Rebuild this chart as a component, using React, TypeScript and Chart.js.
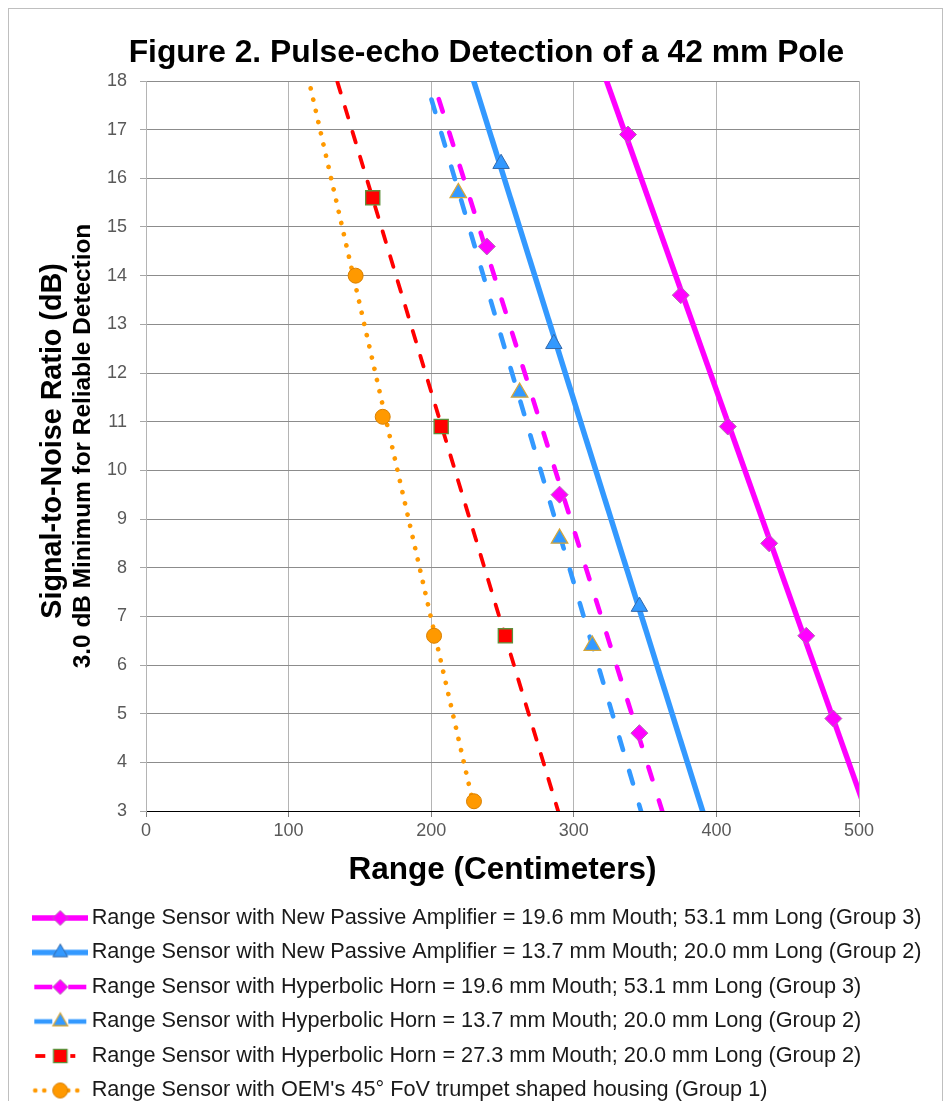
import React, { useEffect, useRef } from 'react';
import { Chart, registerables } from 'chart.js';

Chart.register(...registerables);

const FONT = "'Liberation Sans', Arial, Helvetica, sans-serif";

const TITLE = 'Figure 2. Pulse-echo Detection of a 42 mm Pole';
const X_TITLE = 'Range (Centimeters)';
const Y_TITLE = 'Signal-to-Noise Ratio (dB)';
const Y_SUBTITLE = '3.0 dB Minimum for Reliable Detection';

const X_TICKS = [0, 100, 200, 300, 400, 500];
const Y_TICKS = [3, 4, 5, 6, 7, 8, 9, 10, 11, 12, 13, 14, 15, 16, 17, 18];

const SERIES_LABELS = [
  'Range Sensor with New Passive Amplifier = 19.6 mm Mouth; 53.1 mm Long (Group 3)',
  'Range Sensor with New Passive Amplifier = 13.7 mm Mouth; 20.0 mm Long (Group 2)',
  'Range Sensor with Hyperbolic Horn = 19.6 mm Mouth; 53.1 mm Long (Group 3)',
  'Range Sensor with Hyperbolic Horn = 13.7 mm Mouth; 20.0 mm Long (Group 2)',
  'Range Sensor with Hyperbolic Horn = 27.3 mm Mouth; 20.0 mm Long (Group 2)',
  "Range Sensor with OEM's 45\u00B0 FoV trumpet shaped housing (Group 1)",
];

// Range (cm) and SNR (dB)
const npa196Range = [338, 375, 408, 437, 463, 482];
const npa196Snr = [16.9, 13.6, 10.9, 8.5, 6.6, 4.9];
const npa137Range = [249, 286, 346];
const npa137Snr = [16.3, 12.6, 7.2];
const hh196Range = [239, 290, 346];
const hh196Snr = [14.6, 9.5, 4.6];
const hh137Range = [219, 262, 290, 313];
const hh137Snr = [15.7, 11.6, 8.6, 6.4];
const hh273Range = [159, 207, 252];
const hh273Snr = [15.6, 10.9, 6.6];
const oemRange = [147, 166, 202, 230];
const oemSnr = [14.0, 11.1, 6.6, 3.2];

type Style = {
  range: number[];
  snr: number[];
  color: string;
  width: number;
  dash: number[];
  cap: CanvasLineCap;
  marker: 'rectRot' | 'triangle' | 'rect' | 'circle';
  radius: number;
  fill: string;
  border: string;
  borderWidth: number;
  legendDash: number[];
  legendSegs: number[][];
};

const STYLES: Style[] = [
  { range: npa196Range, snr: npa196Snr, color: '#FF00FF', width: 5.5, dash: [], cap: 'butt', marker: 'rectRot', radius: 8.5, fill: '#FF00FF', border: '#B070B0', borderWidth: 1, legendDash: [], legendSegs: [[0, 56]] },
  { range: npa137Range, snr: npa137Snr, color: '#3399FF', width: 5.5, dash: [], cap: 'butt', marker: 'triangle', radius: 9.5, fill: '#3399FF', border: '#3468A8', borderWidth: 1, legendDash: [], legendSegs: [[0, 56]] },
  { range: hh196Range, snr: hh196Snr, color: '#FF00FF', width: 4.6, dash: [13, 22], cap: 'round', marker: 'rectRot', radius: 8.5, fill: '#FF00FF', border: '#B070B0', borderWidth: 1, legendDash: [], legendSegs: [[2, 20], [36, 54]] },
  { range: hh137Range, snr: hh137Snr, color: '#3399FF', width: 4.6, dash: [13, 22], cap: 'round', marker: 'triangle', radius: 9.5, fill: '#3399FF', border: '#D4A63A', borderWidth: 1.3, legendDash: [], legendSegs: [[2, 20], [36, 54]] },
  { range: hh273Range, snr: hh273Snr, color: '#FF0000', width: 3.8, dash: [11, 15], cap: 'round', marker: 'rect', radius: 10, fill: '#FF0000', border: '#5E8F3A', borderWidth: 1.3, legendDash: [], legendSegs: [[3, 13], [38, 43]] },
  { range: oemRange, snr: oemSnr, color: '#FF9900', width: 4.7, dash: [0.001, 11.5], cap: 'round', marker: 'circle', radius: 7.5, fill: '#FF9900', border: '#D98000', borderWidth: 1, legendDash: [0.001, 9], legendSegs: [[3, 20], [36, 54]] },
];

function trendLine(xs: number[], ys: number[], yLo: number, yHi: number) {
  const n = xs.length;
  const mx = xs.reduce((a, b) => a + b, 0) / n;
  const my = ys.reduce((a, b) => a + b, 0) / n;
  let sxy = 0;
  let sxx = 0;
  for (let i = 0; i < n; i++) {
    sxy += (xs[i] - mx) * (ys[i] - my);
    sxx += (xs[i] - mx) * (xs[i] - mx);
  }
  const b = sxy / sxx;
  const a = my - b * mx;
  return [
    { x: (yHi - a) / b, y: yHi },
    { x: (yLo - a) / b, y: yLo },
  ];
}

function drawMarker(g: CanvasRenderingContext2D, s: Style, cx: number, cy: number, r: number) {
  g.beginPath();
  if (s.marker === 'rectRot') {
    g.moveTo(cx, cy - r);
    g.lineTo(cx + r, cy);
    g.lineTo(cx, cy + r);
    g.lineTo(cx - r, cy);
  } else if (s.marker === 'triangle') {
    g.moveTo(cx, cy - r);
    g.lineTo(cx + r * 0.866, cy + r / 2);
    g.lineTo(cx - r * 0.866, cy + r / 2);
  } else if (s.marker === 'rect') {
    const h = r * Math.SQRT1_2;
    g.rect(cx - h, cy - h, 2 * h, 2 * h);
  } else {
    g.arc(cx, cy, r, 0, Math.PI * 2);
  }
  g.closePath();
  g.fillStyle = s.fill;
  g.fill();
  g.lineWidth = s.borderWidth;
  g.strokeStyle = s.border;
  g.stroke();
}

function makeSymbol(s: Style): HTMLCanvasElement {
  const c = document.createElement('canvas');
  c.width = 56;
  c.height = 24;
  const g = c.getContext('2d') as CanvasRenderingContext2D;
  const cy = 12;
  g.strokeStyle = s.color;
  g.lineWidth = s.width;
  g.lineCap = s.legendDash.length ? 'round' : 'butt';
  g.setLineDash(s.legendDash);
  for (const [a, b] of s.legendSegs) {
    g.beginPath();
    g.moveTo(a, cy);
    g.lineTo(b, cy);
    g.stroke();
  }
  g.setLineDash([]);
  drawMarker(g, s, 28, cy, s.marker === 'triangle' ? 8.5 : s.marker === 'rect' ? 9.5 : 7.5);
  return c;
}

const textPlugin = {
  id: 'figureTexts',
  afterDraw(chart: any) {
    const { ctx, chartArea } = chart;
    ctx.save();
    ctx.fillStyle = '#000000';
    ctx.textAlign = 'center';
    ctx.textBaseline = 'alphabetic';
    ctx.font = `bold 31.8px ${FONT}`;
    ctx.fillText(TITLE, 477.5, 53);
    ctx.font = `bold 31.5px ${FONT}`;
    ctx.fillText(X_TITLE, (chartArea.left + chartArea.right) / 2, 870);
    ctx.save();
    ctx.translate(52.4, 432);
    ctx.rotate(-Math.PI / 2);
    ctx.font = `bold 28.7px ${FONT}`;
    ctx.fillText(Y_TITLE, 0, 0);
    ctx.restore();
    ctx.save();
    ctx.translate(81, 437);
    ctx.rotate(-Math.PI / 2);
    ctx.font = `bold 24.4px ${FONT}`;
    ctx.fillText(Y_SUBTITLE, 0, 0);
    ctx.restore();
    ctx.restore();
  },
};

export default function App() {
  const ref = useRef<HTMLCanvasElement>(null);

  useEffect(() => {
    const canvas = ref.current;
    if (!canvas) return;
    const yLo = Y_TICKS[0] - 1;
    const yHi = Y_TICKS[Y_TICKS.length - 1] + 1;

    const markerSets = STYLES.map((s, i) => ({
      label: SERIES_LABELS[i],
      data: s.range.map((x, j) => ({ x, y: s.snr[j] })),
      showLine: false,
      pointStyle: s.marker,
      pointRadius: s.radius,
      pointHoverRadius: s.radius,
      pointBackgroundColor: s.fill,
      pointBorderColor: s.border,
      pointBorderWidth: s.borderWidth,
      clip: 12,
    }));
    const trendSets = STYLES.map((s, i) => ({
      label: SERIES_LABELS[i] + ' (trend)',
      data: trendLine(s.range, s.snr, yLo, yHi),
      showLine: true,
      pointRadius: 0,
      borderColor: s.color,
      borderWidth: s.width,
      borderDash: s.dash,
      borderCapStyle: s.cap,
      clip: 0,
    }));
    const symbols = STYLES.map(makeSymbol);

    const chart = new Chart(canvas, {
      type: 'scatter',
      data: { datasets: [...markerSets, ...trendSets] as any },
      plugins: [textPlugin],
      options: {
        responsive: false,
        animation: false,
        devicePixelRatio: 1,
        events: [],
        layout: { padding: { top: 72, left: 18, right: 0, bottom: 0.65 } },
        plugins: {
          title: { display: false },
          tooltip: { enabled: false },
          legend: {
            position: 'bottom',
            align: 'start',
            labels: {
              usePointStyle: true,
              pointStyleWidth: 41,
              padding: 12.8,
              color: '#1a1a1a',
              font: { size: 21.7, family: FONT },
              generateLabels: () =>
                STYLES.map((s, i) => ({
                  text: SERIES_LABELS[i],
                  pointStyle: symbols[i] as any,
                  fillStyle: s.color,
                  strokeStyle: s.color,
                  lineWidth: 0,
                  hidden: false,
                  datasetIndex: i,
                  fontColor: '#1a1a1a',
                })),
            },
          },
        },
        scales: {
          x: {
            type: 'linear',
            min: X_TICKS[0],
            max: X_TICKS[X_TICKS.length - 1],
            afterBuildTicks: (s: any) => {
              s.ticks = X_TICKS.map((v) => ({ value: v }));
            },
            afterFit: (s: any) => {
              s.height = 83.35;
            },
            grid: { color: '#B4B4B4', lineWidth: 1, tickLength: 6, tickColor: '#7F7F7F', drawTicks: true },
            border: { display: true, color: '#000000', width: 1 },
            ticks: { color: '#595959', font: { size: 18, family: FONT }, padding: 3, maxRotation: 0, autoSkip: false },
          },
          y: {
            type: 'linear',
            min: Y_TICKS[0],
            max: Y_TICKS[Y_TICKS.length - 1],
            afterBuildTicks: (s: any) => {
              s.ticks = Y_TICKS.map((v) => ({ value: v }));
            },
            afterFit: (s: any) => {
              s.width = 119;
            },
            grid: { color: '#8C8C8C', lineWidth: 1, tickLength: 6, tickColor: '#A6A6A6', drawTicks: true },
            border: { display: true, color: '#B4B4B4', width: 1 },
            ticks: { color: '#595959', font: { size: 18, family: FONT }, padding: 13, autoSkip: false },
          },
          yRight: {
            type: 'linear',
            position: 'right',
            display: true,
            afterFit: (s: any) => {
              s.width = 83;
            },
            grid: { display: false, drawOnChartArea: false, drawTicks: false },
            border: { display: false },
            ticks: { display: false },
          },
        },
      },
    } as any);
    return () => chart.destroy();
  }, []);

  return (
    <div
      style={{
        width: 935,
        height: 1101,
        marginBottom: -8,
        borderTop: '1px solid #BFBFBF',
        borderLeft: '1px solid #BFBFBF',
        borderRight: '1px solid #BFBFBF',
        boxSizing: 'border-box',
        overflow: 'hidden',
        background: '#ffffff',
      }}
    >
      <canvas ref={ref} width={933} height={1103} style={{ display: 'block', width: 933, height: 1103 }} />
    </div>
  );
}
